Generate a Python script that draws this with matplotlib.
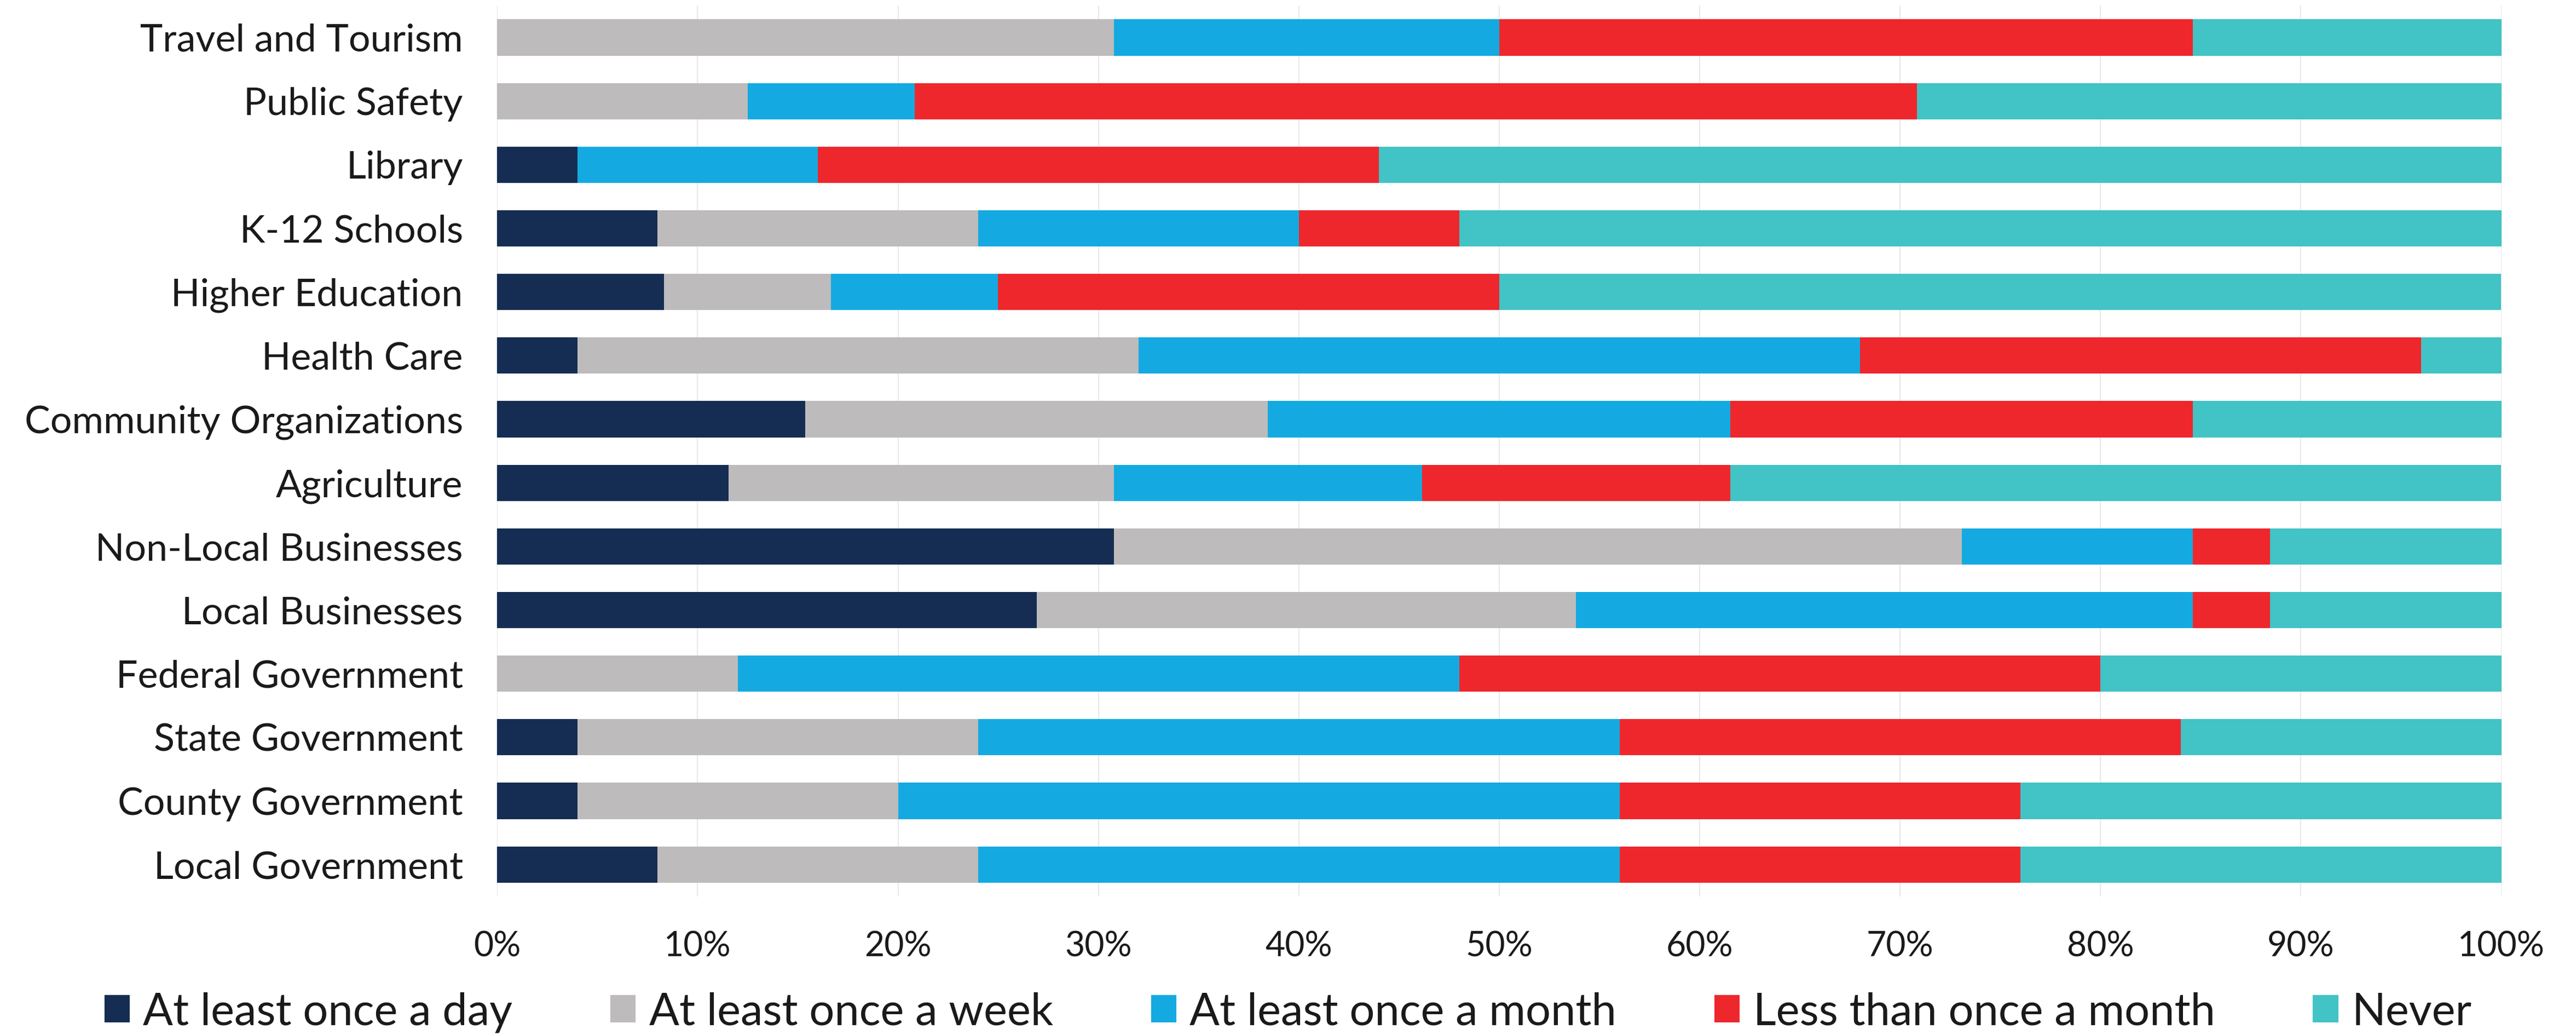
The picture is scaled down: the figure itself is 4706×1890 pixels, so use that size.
import matplotlib.pyplot as plt
import numpy as np

plt.rcParams['font.family'] = ['Lato', 'DejaVu Sans']

# categories, top to bottom as in the chart
categories = ['Travel and Tourism', 'Public Safety', 'Library', 'K-12 Schools',
              'Higher Education', 'Health Care', 'Community Organizations',
              'Agriculture', 'Non-Local Businesses', 'Local Businesses',
              'Federal Government', 'State Government', 'County Government',
              'Local Government']

# shares in percent, same order as categories
once_a_day = [0.0, 0.0, 4.0, 8.0, 8.33, 4.0, 15.38, 11.54, 30.77, 26.92, 0.0, 4.0, 4.0, 8.0]
once_a_week = [30.77, 12.5, 0.0, 16.0, 8.33, 28.0, 23.08, 19.23, 42.31, 26.92, 12.0, 20.0, 16.0, 16.0]
once_a_month = [19.23, 8.33, 12.0, 16.0, 8.33, 36.0, 23.08, 15.38, 11.54, 30.77, 36.0, 32.0, 36.0, 32.0]
less_than_monthly = [34.62, 50.0, 28.0, 8.0, 25.0, 28.0, 23.08, 15.38, 3.85, 3.85, 32.0, 28.0, 20.0, 20.0]
never = [15.38, 29.17, 56.0, 52.0, 50.0, 4.0, 15.38, 38.46, 11.54, 11.54, 20.0, 16.0, 24.0, 24.0]

series = ['At least once a day', 'At least once a week', 'At least once a month',
          'Less than once a month', 'Never']
C = ['#152d52', '#bdbbbc', '#14aae1', '#ee272d', '#42c3c5']

fig = plt.figure(figsize=(4706 / 300, 1890 / 300), dpi=300)
ax = fig.add_axes([0.193, 0.134, 0.778, 0.8605])

y = np.arange(len(categories))
left = np.zeros(len(categories))
for vals, name, col in zip([once_a_day, once_a_week, once_a_month, less_than_monthly, never], series, C):
    vals = np.array(vals)
    ax.barh(y, vals, left=left, height=0.57, color=col, label=name, zorder=2)
    left += vals

ax.set_xlim(0, 100)
ax.set_ylim(13.5, -0.5)
ax.set_yticks(y)
ax.set_yticklabels(categories)
ax.set_xticks(np.arange(0, 101, 10))
ax.set_xticklabels([str(v) + '%' for v in range(0, 101, 10)])
ax.tick_params(axis='both', length=0, colors='#1a1a1a')
ax.tick_params(axis='y', pad=15, labelsize=16.8)
ax.tick_params(axis='x', pad=15, labelsize=15)
ax.grid(axis='x', color='#e4e4e4', linewidth=0.4, zorder=0)
ax.set_axisbelow(True)
for s in ax.spines.values():
    s.set_visible(False)

fig.legend(loc='center', bbox_to_anchor=(0.5, 0.022), ncol=5, frameon=False,
           fontsize=19.5, handlelength=0.57, handleheight=0.57, handletextpad=0.3,
           columnspacing=2.2, labelcolor='#1a1a1a')

fig.savefig('out.png', dpi=300)
